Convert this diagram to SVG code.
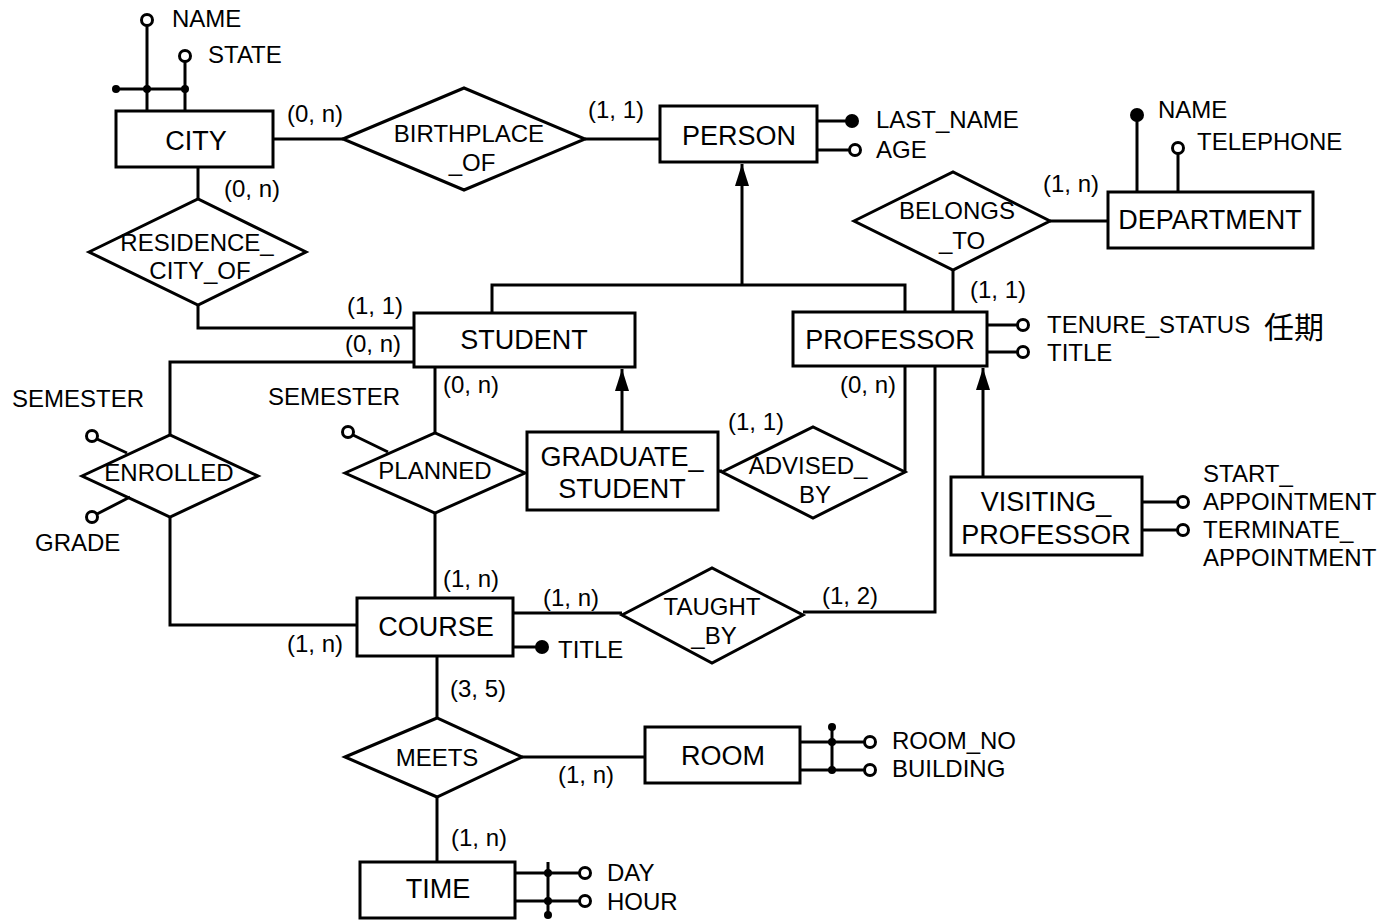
<svg xmlns="http://www.w3.org/2000/svg" width="1388" height="921" viewBox="0 0 1388 921">
<defs>
<marker id="arr" viewBox="0 0 22 14" refX="22" refY="7" markerWidth="22" markerHeight="14" markerUnits="userSpaceOnUse" orient="auto">
<path d="M22 7 L0 0 L0 14 Z" fill="#000"/>
</marker>
<style>
.l{stroke:#000;stroke-width:3;fill:none}
.b{fill:#fff;stroke:#000;stroke-width:3}
text{font-family:"Liberation Sans",Arial,sans-serif;fill:#000}
.e{font-size:27px;text-anchor:middle}
.r{font-size:24px;text-anchor:middle}
.a{font-size:24px}
.c{font-size:24px}
.oc{fill:#fff;stroke:#000;stroke-width:3}
.fc{fill:#000}
</style>
</defs>
<rect width="1388" height="921" fill="#fff"/>

<g id="connectors">
<path class="l" d="M273 139 H343"/>
<path class="l" d="M585 139 H660"/>
<path class="l" d="M198 167 V199"/>
<path class="l" d="M198 305 V328 H414"/>
<path class="l" d="M414 362 H170 V435"/>
<path class="l" d="M170 517 V625 H357"/>
<path class="l" d="M435 367 V433"/>
<path class="l" d="M435 513 V598"/>
<path class="l" d="M622 432 V369" marker-end="url(#arr)"/>
<path class="l" d="M718 471 H722"/>
<path class="l" d="M905 472 V366"/>
<path class="l" d="M935 366 V612 H803"/>
<path class="l" d="M513 613 H622"/>
<path class="l" d="M492 313 V285 H905 V312"/>
<path class="l" d="M742 285 V164" marker-end="url(#arr)"/>
<path class="l" d="M953 270 V312"/>
<path class="l" d="M1050 221 H1108"/>
<path class="l" d="M983 477 V368" marker-end="url(#arr)"/>
<path class="l" d="M437 656 V718"/>
<path class="l" d="M522 757 H645"/>
<path class="l" d="M437 797 V862"/>
<g>
<text class="c" x="287" y="122">(0, n)</text>
<text class="c" x="588" y="118">(1, 1)</text>
<text class="c" x="224" y="197">(0, n)</text>
<text class="c" x="1043" y="192">(1, n)</text>
<text class="c" x="970" y="298">(1, 1)</text>
<text class="c" x="347" y="314">(1, 1)</text>
<text class="c" x="345" y="352">(0, n)</text>
<text class="c" x="443" y="393">(0, n)</text>
<text class="c" x="840" y="393">(0, n)</text>
<text class="c" x="728" y="430">(1, 1)</text>
<text class="c" x="443" y="587">(1, n)</text>
<text class="c" x="543" y="606">(1, n)</text>
<text class="c" x="822" y="604">(1, 2)</text>
<text class="c" x="287" y="652">(1, n)</text>
<text class="c" x="450" y="697">(3, 5)</text>
<text class="c" x="558" y="783">(1, n)</text>
<text class="c" x="451" y="846">(1, n)</text>
</g>
</g>

<g id="city">
<path class="l" d="M116 89 H185 M147 111 V26 M185 111 V62"/>
<circle class="fc" cx="116" cy="89" r="4"/>
<circle class="fc" cx="147" cy="89" r="4"/>
<circle class="fc" cx="185" cy="89" r="4"/>
<circle class="oc" cx="147" cy="20" r="5.5"/>
<circle class="oc" cx="185" cy="56" r="5.5"/>
<text class="a" x="172" y="27">NAME</text>
<text class="a" x="208" y="63">STATE</text>
<rect class="b" x="116" y="111" width="157" height="56"/>
<text class="e" x="196" y="150">CITY</text>
</g>

<g id="birthplace_of">
<polygon class="b" points="343,139 464,88 585,139 464,190"/>
<text class="r" x="469" y="142">BIRTHPLACE</text>
<text class="r" x="472" y="171">_OF</text>
</g>

<g id="person">
<path class="l" d="M817 121 H846 M817 150 H849"/>
<circle class="fc" cx="852" cy="121" r="7"/>
<circle class="oc" cx="855" cy="150" r="5.5"/>
<text class="a" x="876" y="128">LAST_NAME</text>
<text class="a" x="876" y="158">AGE</text>
<rect class="b" x="660" y="106" width="157" height="56"/>
<text class="e" x="739" y="145">PERSON</text>
</g>

<g id="department">
<path class="l" d="M1137 192 V120 M1178 192 V154"/>
<circle class="fc" cx="1137" cy="115" r="7"/>
<circle class="oc" cx="1178" cy="148" r="5.5"/>
<text class="a" x="1158" y="118">NAME</text>
<text class="a" x="1197" y="150">TELEPHONE</text>
<rect class="b" x="1108" y="192" width="205" height="56"/>
<text class="e" x="1210" y="229">DEPARTMENT</text>
</g>

<g id="belongs_to">
<polygon class="b" points="854,221 953,172 1050,221 953,270"/>
<text class="r" x="957" y="219">BELONGS</text>
<text class="r" x="962" y="249">_TO</text>
</g>

<g id="residence_city_of">
<polygon class="b" points="89,252 198,199 306,252 198,305"/>
<text class="r" x="197" y="251">RESIDENCE_</text>
<text class="r" x="200" y="279">CITY_OF</text>
</g>

<g id="student">
<rect class="b" x="414" y="313" width="221" height="54"/>
<text class="e" x="524" y="349">STUDENT</text>
</g>

<g id="professor">
<path class="l" d="M987 325 H1017 M987 352 H1017"/>
<circle class="oc" cx="1023" cy="325" r="5.5"/>
<circle class="oc" cx="1023" cy="352" r="5.5"/>
<text class="a" x="1047" y="333">TENURE_STATUS</text>
<text class="a" x="1047" y="361">TITLE</text>
<text x="1264" y="338" style="font-size:30px;font-family:'Noto Sans CJK SC','Noto Sans CJK JP',sans-serif">任期</text>
<rect class="b" x="793" y="312" width="194" height="54"/>
<text class="e" x="890" y="349">PROFESSOR</text>
</g>

<g id="enrolled">
<path class="l" d="M97 439 L127 453 M97 514 L130 497"/>
<circle class="oc" cx="92" cy="436" r="5.5"/>
<circle class="oc" cx="92" cy="517" r="5.5"/>
<text class="a" x="12" y="407">SEMESTER</text>
<text class="a" x="35" y="551">GRADE</text>
<polygon class="b" points="82,476 170,435 258,476 170,517" style="fill:none"/>
<text class="r" x="169" y="481">ENROLLED</text>
</g>

<g id="planned">
<path class="l" d="M353 435 L388 452"/>
<circle class="oc" cx="348" cy="432" r="5.5"/>
<text class="a" x="268" y="405">SEMESTER</text>
<polygon class="b" points="345,473 435,433 525,473 435,513" style="fill:none"/>
<text class="r" x="435" y="479">PLANNED</text>
</g>

<g id="graduate_student">
<rect class="b" x="527" y="432" width="191" height="78"/>
<text class="e" x="622" y="466">GRADUATE_</text>
<text class="e" x="622" y="498">STUDENT</text>
</g>

<g id="advised_by">
<polygon class="b" points="722,472 813,427 905,472 813,518"/>
<text class="r" x="808" y="474">ADVISED_</text>
<text class="r" x="815" y="503">BY</text>
</g>

<g id="visiting_professor">
<path class="l" d="M1142 502 H1177 M1142 530 H1177"/>
<circle class="oc" cx="1183" cy="502" r="5.5"/>
<circle class="oc" cx="1183" cy="530" r="5.5"/>
<text class="a" x="1203" y="482">START_</text>
<text class="a" x="1203" y="510">APPOINTMENT</text>
<text class="a" x="1203" y="538">TERMINATE_</text>
<text class="a" x="1203" y="566">APPOINTMENT</text>
<rect class="b" x="951" y="477" width="191" height="78"/>
<text class="e" x="1046" y="511">VISITING_</text>
<text class="e" x="1046" y="544">PROFESSOR</text>
</g>

<g id="course">
<path class="l" d="M513 647 H536"/>
<circle class="fc" cx="542" cy="647" r="7"/>
<text class="a" x="558" y="658">TITLE</text>
<rect class="b" x="357" y="598" width="156" height="58"/>
<text class="e" x="436" y="636">COURSE</text>
</g>

<g id="taught_by">
<polygon class="b" points="622,615 712,568 803,615 712,663"/>
<text class="r" x="712" y="615">TAUGHT</text>
<text class="r" x="714" y="644">_BY</text>
</g>

<g id="meets">
<polygon class="b" points="345,757 437,718 522,757 437,797"/>
<text class="r" x="437" y="766">MEETS</text>
</g>

<g id="room">
<path class="l" d="M800 742 H864 M800 770 H864 M832 727 V770"/>
<circle class="fc" cx="832" cy="727" r="4"/>
<circle class="fc" cx="832" cy="742" r="4"/>
<circle class="fc" cx="832" cy="770" r="4"/>
<circle class="oc" cx="870" cy="742" r="5.5"/>
<circle class="oc" cx="870" cy="770" r="5.5"/>
<text class="a" x="892" y="749">ROOM_NO</text>
<text class="a" x="892" y="777">BUILDING</text>
<rect class="b" x="645" y="727" width="155" height="56"/>
<text class="e" x="723" y="765">ROOM</text>
</g>

<g id="time">
<path class="l" d="M515 873 H579 M515 901 H579 M548 862 V915"/>
<circle class="fc" cx="548" cy="873" r="4"/>
<circle class="fc" cx="548" cy="901" r="4"/>
<circle class="fc" cx="548" cy="915" r="4"/>
<circle class="oc" cx="585" cy="873" r="5.5"/>
<circle class="oc" cx="585" cy="901" r="5.5"/>
<text class="a" x="607" y="881">DAY</text>
<text class="a" x="607" y="910">HOUR</text>
<rect class="b" x="360" y="862" width="155" height="56"/>
<text class="e" x="438" y="898">TIME</text>
</g>
</svg>
